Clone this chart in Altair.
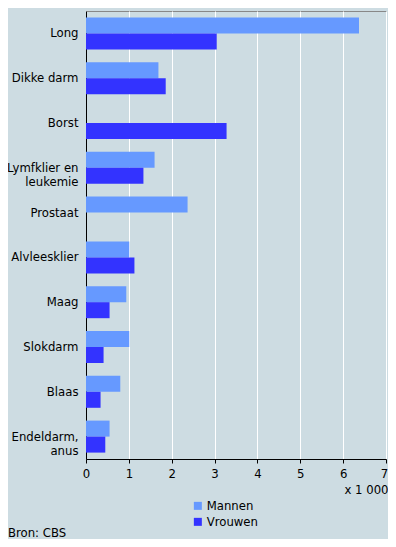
import altair as alt
import pandas as pd

categories = ["Long", "Dikke darm", "Borst", "Lymfklier en|leukemie", "Prostaat",
              "Alvleesklier", "Maag", "Slokdarm", "Blaas", "Endeldarm,|anus"]
mannen = [6.37, 1.69, 0.0, 1.60, 2.37, 1.01, 0.94, 1.01, 0.80, 0.55]
vrouwen = [3.05, 1.86, 3.28, 1.34, 0.0, 1.13, 0.55, 0.41, 0.34, 0.45]
series = ["Mannen", "Vrouwen"]
colors = ["#6699FF", "#3333FF"]
x_ticks = [0, 1, 2, 3, 4, 5, 6, 7]

rows = []
for c, m, v in zip(categories, mannen, vrouwen):
    rows.append({"cat": c, "geslacht": "Mannen", "waarde": m})
    rows.append({"cat": c, "geslacht": "Vrouwen", "waarde": v})
df = pd.DataFrame(rows)

FONT = "DejaVu Sans"
FS = 11.7

bars = alt.Chart(df).mark_bar(size=16).encode(
    x=alt.X("waarde:Q",
            scale=alt.Scale(domain=[0, 7], nice=False),
            axis=alt.Axis(values=x_ticks, grid=True, gridColor="white", gridWidth=1,
                          gridOpacity=1, domainColor="black", tickColor="black",
                          tickSize=4, labelPadding=5, labelFont=FONT, labelFontSize=FS,
                          labelColor="black", labelFlush=False,
                          labelOffset={"condition": {"test": "datum.value == 7", "value": -2},
                                       "value": 0},
                          title="x 1 000", titleFont=FONT, titleFontSize=FS,
                          titleFontWeight="normal", titleColor="black",
                          titleAnchor="end", titleAlign="right", titleX=302, titleY=25)),
    y=alt.Y("cat:N", sort=categories,
            scale=alt.Scale(paddingInner=0.286, paddingOuter=0.143),
            axis=alt.Axis(title=None, ticks=False, domainColor="black", labelPadding=8,
                          labelFont=FONT, labelFontSize=FS, labelColor="black",
                          labelExpr="split(datum.label, '|')", labelLineHeight=14,
                          grid=False)),
    yOffset=alt.YOffset("geslacht:N", sort=series,
                        scale=alt.Scale(paddingInner=0, paddingOuter=0)),
    color=alt.Color("geslacht:N", sort=series,
                    scale=alt.Scale(domain=series, range=colors),
                    legend=alt.Legend(title=None, orient="none", legendX=106, legendY=489,
                                      symbolType="square", symbolSize=64,
                                      symbolStrokeWidth=0, labelFont=FONT,
                                      labelFontSize=FS, labelColor="black",
                                      rowPadding=3, symbolOffset=0, labelOffset=3)),
)

source = alt.Chart(pd.DataFrame({"t": ["Bron: CBS"]})).mark_text(
    font=FONT, fontSize=FS, color="black", align="left", baseline="middle"
).encode(text="t:N", x=alt.value(-78), y=alt.value(522))

chart = alt.layer(bars, source).properties(
    width=300, height=448,
    background="#CDDCE2",
    padding={"left": 78, "top": 3, "right": 2, "bottom": 80},
    autosize=alt.AutoSizeParams(type="none"),
).configure_view(
    fill="#CDDCE2", stroke="#888888", strokeWidth=1
)

chart.save("out.html", embed_options={"renderer": "svg", "actions": False})
